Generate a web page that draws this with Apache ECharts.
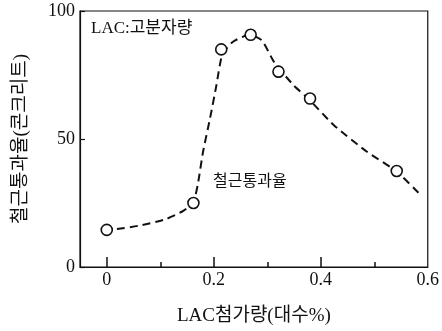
<!DOCTYPE html>
<html><head><meta charset="utf-8">
<script src="https://cdn.jsdelivr.net/npm/echarts@6/dist/echarts.min.js"></script>
<style>html,body{margin:0;padding:0;background:#fff}#c{width:442px;height:331px}</style>
</head><body><div id="c"></div>
<script>
// measured points (LAC addition %, passing rate %)
const pointX = [0, 0.162, 0.214, 0.269, 0.321, 0.38, 0.542];
const pointY = [14.5, 25, 85, 90.7, 76.3, 65.8, 37.5];
// dashed fitted curve
const curveX = [0.019, 0.059, 0.109, 0.143, 0.162, 0.170, 0.180, 0.193, 0.205, 0.216, 0.236, 0.267, 0.290, 0.313, 0.350, 0.378, 0.425, 0.4865, 0.542, 0.5825];
const curveY = [14.8, 16.1, 18.6, 21.9, 25.5, 32, 45, 58, 71, 83, 88, 90.7, 88.5, 80, 70.8, 65.5, 55.3, 45, 37.3, 29];
const xLabels = [0, 0.2, 0.4, 0.6];
const xMajorTicks = [0, 0.2, 0.4];
const xMinorTicks = [0.1, 0.3, 0.5];
const xTitle = 'LAC첨가량(대수%)';
const yTitle = '철근통과율(콘크리트)';
const noteTop = 'LAC:고분자량';
const noteCurve = '철근통과율';

const FONT = '"Liberation Serif","Noto Sans CJK KR",serif';
const chart = echarts.init(document.getElementById('c'));
chart.setOption({
  animation: false,
  grid: {left: 80, right: 10, top: 11, bottom: 62, show: true, borderColor: '#111', borderWidth: 1.2, backgroundColor: 'transparent'},
  xAxis: [{
    type: 'value', min: -0.05, max: 0.6,
    axisLine: {show: true, onZero: false, lineStyle: {color: '#111', width: 1.2}},
    axisTick: {show: true, inside: true, length: 10, customValues: xMajorTicks, lineStyle: {color: '#111', width: 1.5}},
    axisLabel: {customValues: xLabels, color: '#111', fontFamily: FONT, fontSize: 18, margin: 4,
      formatter: v => String(v)},
    splitLine: {show: false},
    name: xTitle, nameLocation: 'middle', nameGap: 40,
    nameTextStyle: {color: '#111', fontFamily: FONT, fontSize: 19}
  }, {
    type: 'value', min: -0.05, max: 0.6, position: 'bottom',
    axisLine: {show: false, onZero: false},
    axisTick: {show: true, inside: true, length: 5, customValues: xMinorTicks, lineStyle: {color: '#111', width: 1.5}},
    axisLabel: {show: false}, splitLine: {show: false}
  }],
  yAxis: {
    type: 'value', min: 0, max: 100, interval: 50,
    axisLine: {show: true, onZero: false, lineStyle: {color: '#111', width: 1.2}},
    axisTick: {show: true, inside: true, length: 5, lineStyle: {color: '#111', width: 1.2}},
    axisLabel: {color: '#111', fontFamily: FONT, fontSize: 18, margin: 5},
    splitLine: {show: false},
    name: yTitle, nameLocation: 'middle', nameGap: 49, nameRotate: 90,
    nameTextStyle: {color: '#111', fontFamily: FONT, fontSize: 19}
  },
  graphic: [
    {type: 'text', left: 91, top: 20, style: {text: noteTop, fill: '#111', font: '17px ' + FONT}},
    {type: 'text', left: 213, top: 174, style: {text: noteCurve, fill: '#111', font: '16px ' + FONT}}
  ],
  series: [{
    type: 'line', xAxisIndex: 0, data: curveX.map((x, i) => [x, curveY[i]]),
    smooth: 0.2, showSymbol: false, symbol: 'none',
    lineStyle: {color: '#111', width: 2, type: [8, 5]}
  }, {
    type: 'scatter', xAxisIndex: 0, data: pointX.map((x, i) => [x, pointY[i]]),
    symbol: 'circle', symbolSize: 11, z: 5,
    itemStyle: {color: '#ffffff', opacity: 1, borderColor: '#111', borderWidth: 1.6},
    emphasis: {disabled: true}
  }]
});
</script></body></html>
